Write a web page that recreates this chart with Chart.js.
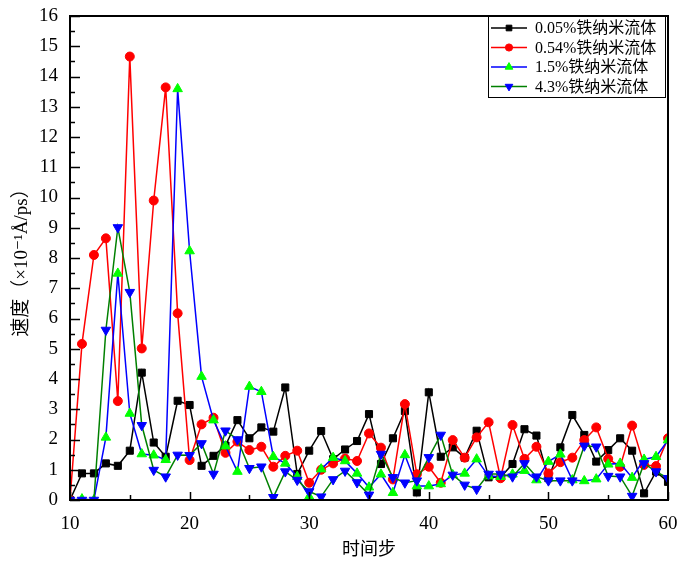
<!DOCTYPE html>
<html lang="zh">
<head>
  <meta charset="UTF-8">
  <title>速度随时间步变化</title>
  <script src="https://cdn.jsdelivr.net/npm/chart.js"></script>
  <style>
    body {
      margin: 0;
      background-color: #fff;
    }
    #speedChart {
      display: block;
    }
  </style>
</head>
<body>
  <canvas id="speedChart" width="681" height="564"></canvas>

  <script>
    const steps = [10, 11, 12, 13, 14, 15, 16, 17, 18, 19, 20, 21, 22, 23, 24, 25, 26, 27, 28, 29, 30,
      31, 32, 33, 34, 35, 36, 37, 38, 39, 40, 41, 42, 43, 44, 45, 46, 47, 48, 49, 50,
      51, 52, 53, 54, 55, 56, 57, 58, 59, 60];

    const fe005 = [0, 0.88, 0.88, 1.21, 1.13, 1.63, 4.21, 1.9, 1.43, 3.28, 3.14,
      1.13, 1.46, 1.8, 2.64, 2.04, 2.4, 2.26, 3.72, 0.86, 1.63,
      2.28, 1.35, 1.67, 1.95, 2.84, 1.19, 2.04, 2.94, 0.25, 3.56,
      1.43, 1.74, 1.4, 2.29, 0.75, 0.75, 1.19, 2.34, 2.13, 0.72,
      1.74, 2.81, 2.15, 1.27, 1.65, 2.04, 1.63, 0.22, 0.94, 0.6];

    const fe054 = [0, 5.16, 8.1, 8.65, 3.27, 14.66, 5.01, 9.9, 13.64, 6.17, 1.32,
      2.5, 2.72, 1.56, 1.93, 1.65, 1.76, 1.1, 1.46, 1.63, 0.57,
      1.0, 1.21, 1.37, 1.29, 2.2, 1.73, 0.68, 3.17, 0.85, 1.1,
      0.57, 1.98, 1.4, 2.07, 2.57, 0.72, 2.48, 1.36, 1.76, 0.88,
      1.25, 1.4, 1.98, 2.4, 1.36, 1.1, 2.46, 1.16, 1.12, 2.04];

    const fe15 = [0, 0.03, 0, 2.07, 7.49, 2.86, 1.52, 1.48, 1.33, 13.59, 8.23,
      4.08, 2.64, 1.78, 0.94, 3.75, 3.58, 1.43, 1.21, 0.77, 0.11,
      1.02, 1.4, 1.29, 0.88, 0.42, 0.85, 0.24, 1.49, 0.46, 0.46,
      0.53, 0.83, 0.88, 1.35, 0.79, 0.77, 0.85, 0.97, 0.66, 1.27,
      1.51, 0.66, 0.63, 0.69, 1.18, 1.21, 0.74, 1.34, 1.43, 1.98];

    const fe43 = [0, 0, 0, 5.62, 9.01, 6.87, 2.47, 0.99, 0.77, 1.49, 1.48,
      1.87, 0.86, 2.29, 2.0, 1.05, 1.1, 0.09, 0.94, 0.66, 0.28,
      0.11, 0.68, 0.96, 0.58, 0.17, 1.52, 0.75, 0.57, 0.64, 1.41,
      2.15, 0.83, 0.5, 0.36, 0.86, 0.86, 0.77, 1.21, 0.77, 0.64,
      0.64, 0.64, 1.79, 1.76, 0.79, 0.77, 0.13, 1.21, 0.94, 0.72];

    const seriesNames = ["0.05%铁纳米流体", "0.54%铁纳米流体", "1.5%铁纳米流体", "4.3%铁纳米流体"];
    const xTicks = [10, 20, 30, 40, 50, 60];
    const yTicks = [0, 1, 2, 3, 4, 5, 6, 7, 8, 9, 10, 11, 12, 13, 14, 15, 16];

    const serif = '"Liberation Serif", "DejaVu Serif", "Noto Sans CJK SC", serif';

    function toPoints(values) {
      return values.map((v, i) => ({ x: steps[i], y: v }));
    }

    function makeSet(label, values, lineColor, markColor, style, radius, rotation, order) {
      return {
        label: label,
        data: toPoints(values),
        borderColor: lineColor,
        backgroundColor: markColor,
        pointBackgroundColor: markColor,
        pointBorderColor: markColor,
        pointStyle: style,
        pointRadius: radius,
        pointRotation: rotation,
        pointBorderWidth: 1,
        borderWidth: 1.5,
        tension: 0,
        order: order
      };
    }

    const datasets = [
      makeSet(seriesNames[0], fe005, "#000000", "#000000", "rect", 5, 0, 3),
      makeSet(seriesNames[1], fe054, "#ff0000", "#ff0000", "circle", 4.5, 0, 2),
      makeSet(seriesNames[2], fe15, "#0000ff", "#00ff00", "triangle", 5.5, 0, 1),
      makeSet(seriesNames[3], fe43, "#008000", "#0000ff", "triangle", 5.5, 180, 0)
    ];

    // frame + inward ticks, like the origin plot
    const framePlugin = {
      id: "frame",
      afterDatasetsDraw(chart) {
        const { ctx, chartArea: a, scales } = chart;
        const x = scales.x, y = scales.y;
        ctx.save();
        ctx.strokeStyle = "#000";
        ctx.lineWidth = 1.5;
        ctx.beginPath();
        yTicks.forEach((v, i) => {
          const py = Math.round(y.getPixelForValue(v)) + 0.5;
          ctx.moveTo(a.left, py);
          ctx.lineTo(a.left + 10, py);
          if (i < yTicks.length - 1) {
            const pm = Math.round(y.getPixelForValue((v + yTicks[i + 1]) / 2)) + 0.5;
            ctx.moveTo(a.left, pm);
            ctx.lineTo(a.left + 5, pm);
          }
        });
        xTicks.forEach((v, i) => {
          const px = Math.round(x.getPixelForValue(v)) + 0.5;
          ctx.moveTo(px, a.bottom);
          ctx.lineTo(px, a.bottom - 8);
          if (i < xTicks.length - 1) {
            const pm = Math.round(x.getPixelForValue((v + xTicks[i + 1]) / 2)) + 0.5;
            ctx.moveTo(pm, a.bottom);
            ctx.lineTo(pm, a.bottom - 5);
          }
        });
        ctx.stroke();
        ctx.lineWidth = 2;
        ctx.strokeRect(a.left, a.top, a.right - a.left, a.bottom - a.top);
        ctx.restore();
      }
    };

    const legendPlugin = {
      id: "boxLegend",
      afterDraw(chart) {
        const ctx = chart.ctx;
        const a = chart.chartArea;
        const boxL = 488, boxT = a.top, boxR = a.right - 3, boxB = 97;
        ctx.save();
        ctx.fillStyle = "#fff";
        ctx.fillRect(boxL, boxT, boxR - boxL, boxB - boxT);
        ctx.strokeStyle = "#000";
        ctx.lineWidth = 1;
        ctx.strokeRect(boxL + 0.5, boxT + 0.5, boxR - boxL, boxB - boxT);
        ctx.font = "16px " + serif;
        ctx.textBaseline = "middle";
        chart.data.datasets.forEach((ds, i) => {
          const cy = 28 + i * 19.5;
          ctx.strokeStyle = ds.borderColor;
          ctx.lineWidth = 1.5;
          ctx.beginPath();
          ctx.moveTo(491, cy);
          ctx.lineTo(527, cy);
          ctx.stroke();
          ctx.fillStyle = ds.pointBackgroundColor;
          ctx.strokeStyle = ds.pointBorderColor;
          ctx.lineWidth = 1;
          Chart.helpers.drawPoint(ctx, {
            pointStyle: ds.pointStyle,
            radius: ds.pointRadius * 0.8,
            rotation: ds.pointRotation,
            borderWidth: 1
          }, 509, cy);
          ctx.fillStyle = "#000";
          ctx.fillText(ds.label, 535, cy + 1);
        });
        ctx.restore();
      }
    };

    const ctx = document.getElementById("speedChart").getContext("2d");
    new Chart(ctx, {
      type: "line",
      data: { datasets: datasets },
      options: {
        responsive: false,
        animation: false,
        layout: { padding: { left: 0, top: 16, right: 13, bottom: 0 } },
        plugins: {
          legend: { display: false },
          tooltip: { enabled: false }
        },
        scales: {
          x: {
            type: "linear",
            min: 10,
            max: 60,
            afterFit: (scale) => {
              scale.height = 64;
              scale.paddingLeft = 0;
              scale.paddingRight = 0;
            },
            afterBuildTicks: (scale) => { scale.ticks = xTicks.map(v => ({ value: v })); },
            grid: { display: false, drawTicks: false },
            border: { display: false },
            ticks: {
              padding: 13,
              color: "#000",
              font: { family: serif, size: 19 }
            },
            title: {
              display: true,
              text: "时间步",
              color: "#000",
              padding: { top: 0, bottom: 3 },
              font: { family: serif, size: 18 }
            }
          },
          y: {
            min: 0,
            max: 16,
            afterFit: (scale) => {
              scale.width = 70;
              scale.paddingTop = 0;
              scale.paddingBottom = 0;
            },
            afterBuildTicks: (scale) => { scale.ticks = yTicks.map(v => ({ value: v })); },
            grid: { display: false, drawTicks: false },
            border: { display: false },
            ticks: {
              padding: 12,
              color: "#000",
              font: { family: serif, size: 19 }
            },
            title: {
              display: true,
              text: "速度（×10⁻¹Å/ps）",
              color: "#000",
              padding: { top: 11, bottom: 0 },
              font: { family: serif, size: 19 }
            }
          }
        }
      },
      plugins: [framePlugin, legendPlugin]
    });
  </script>
</body>
</html>
